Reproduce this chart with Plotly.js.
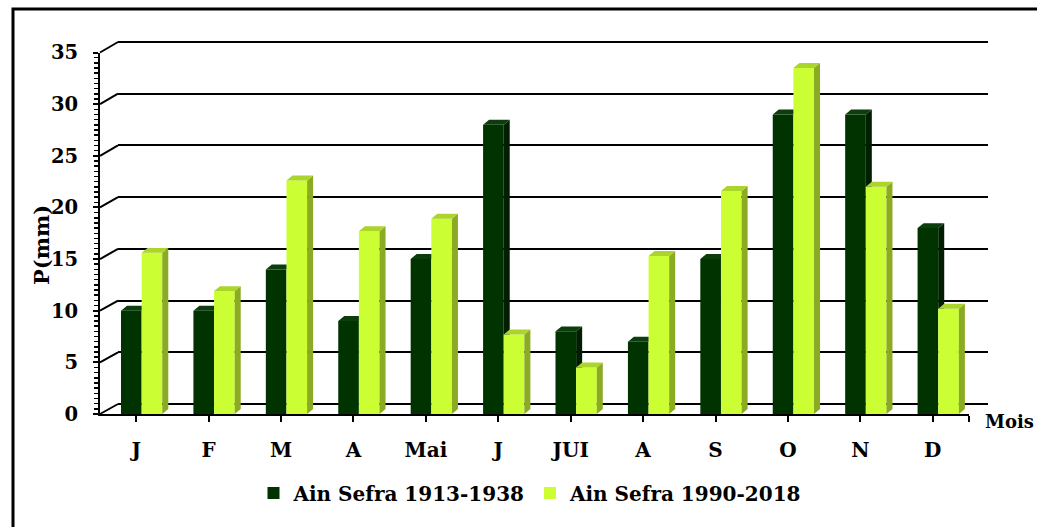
<!DOCTYPE html>
<html>
<head>
<meta charset="utf-8">
<script src="https://cdn.plot.ly/plotly-3.0.1.min.js"></script>
<style>html,body{margin:0;padding:0;background:#fff;}#chart{width:1037px;height:527px;}</style>
</head>
<body>
<div id="chart"></div>
<script>
// ---- data ----
var months = ['J', 'F', 'M', 'A', 'Mai', 'J', 'JUI', 'A', 'S', 'O', 'N', 'D'];
var p1913 = [10, 10, 14, 9, 15, 28, 8, 7, 15, 29, 29, 18];
var p1990 = [15.6, 11.9, 22.6, 17.7, 18.9, 7.7, 4.5, 15.3, 21.6, 33.5, 22, 10.2];
var seriesNames = ['Ain Sefra 1913-1938', 'Ain Sefra 1990-2018'];
var yTicks = [0, 5, 10, 15, 20, 25, 30, 35];

// ---- geometry / style ----
var W = 1037, H = 527;
var FRONT = {x0: 100, x1: 969, y0: 414, y1: 52.5};
var BACK  = {x0: 118, x1: 988, y0: 404, y1: 42};
var YMAX = 35, PAD = 0.5;
var barW = 0.285, offDark = -0.21, offLight = offDark + barW;
var dx = 0.083, dy = 0.48;
var cDark = '#003300', cDarkSide = '#001f00', cDarkTop = '#0c3d0c';
var cLight = '#ccff33', cLightSide = '#8aab22', cLightTop = '#abd52b';
var FONT = 'DejaVu Serif';

function px(x) { return x / W; }
function py(y) { return 1 - y / H; }

var idx = months.map(function (m, i) { return i; });

// polygons for 3D faces (computed from data)
function poly(list) {
  var xs = [], ys = [];
  list.forEach(function (p) {
    p.forEach(function (q) { xs.push(q[0]); ys.push(q[1]); });
    xs.push(p[0][0]); ys.push(p[0][1]);
    xs.push(null); ys.push(null);
  });
  return {x: xs, y: ys};
}
var darkSide = [], darkTop = [], lightSide = [], lightTop = [];
idx.forEach(function (i) {
  var v = p1913[i], L = p1990[i];
  var x0 = i + offDark, a = x0 + barW, b = a + barW;
  if (v > L) {
    darkSide.push([[a, L], [a, v], [a + dx, v + dy], [a + dx, L]]);
    darkTop.push([[x0, v], [a, v], [a + dx, v + dy], [x0 + dx, v + dy]]);
  } else {
    darkTop.push([[x0, v], [a, v], [a, v + dy], [x0 + dx, v + dy]]);
  }
  lightSide.push([[b, 0], [b, L], [b + dx, L + dy], [b + dx, dy]]);
  lightTop.push([[a, L], [b, L], [b + dx, L + dy], [a + dx, L + dy]]);
});
function face(list, color) {
  var p = poly(list);
  return {type: 'scatter', mode: 'lines', x: p.x, y: p.y, fill: 'toself',
    fillcolor: color, line: {width: 0, color: color}, hoverinfo: 'skip',
    showlegend: false, xaxis: 'x2', yaxis: 'y2'};
}

var traces = [
  {type: 'bar', name: seriesNames[0], x: idx, y: p1913, width: barW, offset: offDark,
   marker: {color: cDark, line: {width: 0}}, xaxis: 'x2', yaxis: 'y2'},
  {type: 'bar', name: seriesNames[1], x: idx, y: p1990, width: barW, offset: offLight,
   marker: {color: cLight, line: {width: 0}}, xaxis: 'x2', yaxis: 'y2'},
  face(darkSide, cDarkSide),
  face(darkTop, cDarkTop),
  face(lightSide, cLightSide),
  face(lightTop, cLightTop),
  // back wall subplot (gridlines only)
  {type: 'scatter', mode: 'none', x: [0], y: [0], showlegend: false, hoverinfo: 'skip', xaxis: 'x', yaxis: 'y'}
];

var backScale = (BACK.y0 - BACK.y1) / YMAX;
var shapes = [];
yTicks.forEach(function (t) {
  var yf = FRONT.y0 - t * (FRONT.y0 - FRONT.y1) / YMAX;
  var yb = BACK.y0 - t * backScale;
  shapes.push({type: 'line', xref: 'paper', yref: 'paper',
    x0: px(FRONT.x0), y0: py(yf), x1: px(BACK.x0), y1: py(yb),
    line: {color: '#000', width: 2}});
});
// outer frame
shapes.push({type: 'rect', xref: 'paper', yref: 'paper',
  x0: px(13), y0: py(9), x1: 1.05, y1: -0.05, line: {color: '#000', width: 3}, fillcolor: 'rgba(0,0,0,0)'});

var tickVals = idx.concat([idx.length - 0.5]);
var tickText = months.concat(['']);

var layout = {
  width: W, height: H,
  margin: {l: 0, r: 0, t: 0, b: 0},
  paper_bgcolor: '#fff', plot_bgcolor: 'rgba(0,0,0,0)',
  barmode: 'overlay',
  showlegend: true,
  font: {family: FONT, size: 19, color: '#000', weight: 'bold'},
  xaxis: {domain: [px(BACK.x0), px(BACK.x1)], range: [0, 1], anchor: 'y',
    showgrid: false, zeroline: false, showline: false, showticklabels: false, ticks: '', fixedrange: true},
  yaxis: {domain: [py(BACK.y0 + PAD * backScale), py(BACK.y1 - PAD * backScale)], range: [-PAD, YMAX + PAD], anchor: 'x',
    tickvals: yTicks, showgrid: true, gridcolor: '#000', gridwidth: 2,
    zeroline: false, showline: false, showticklabels: false, ticks: '', fixedrange: true},
  xaxis2: {domain: [px(FRONT.x0), px(FRONT.x1)], range: [-0.5, idx.length - 0.5], anchor: 'y2',
    tickvals: tickVals, ticktext: tickText, ticks: 'outside', ticklen: 6, tickwidth: 2, tickcolor: '#000',
    showline: true, linecolor: '#000', linewidth: 2, showgrid: false, zeroline: false,
    ticklabelstandoff: 11,
    tickfont: {family: FONT, size: 20, color: '#000', weight: 'bold'}, fixedrange: true},
  yaxis2: {domain: [py(FRONT.y0), py(FRONT.y1)], range: [0, YMAX], anchor: 'x2',
    tickvals: yTicks, ticks: 'outside', ticklen: 5, tickwidth: 2, tickcolor: '#000',
    minor: {dtick: 0.5, ticks: 'outside', ticklen: 4, tickwidth: 1.5, tickcolor: '#000', showgrid: false},
    showline: true, linecolor: '#000', linewidth: 2, showgrid: false, zeroline: false,
    ticklabelstandoff: 11,
    tickfont: {family: FONT, size: 19.5, color: '#000', weight: 'bold'}, fixedrange: true},
  legend: {orientation: 'h', x: px(530), xanchor: 'center', y: py(493), yanchor: 'middle',
    font: {family: FONT, size: 20, color: '#000', weight: 'bold'}, bgcolor: 'rgba(0,0,0,0)',
    traceorder: 'normal', itemwidth: 30},
  annotations: [
    {text: 'P(mm)', xref: 'paper', yref: 'paper', x: px(42), y: py(245), textangle: -90,
     showarrow: false, xanchor: 'center', yanchor: 'middle',
     font: {family: FONT, size: 21, color: '#000', weight: 'bold'}},
    {text: 'Mois', xref: 'paper', yref: 'paper', x: px(983), y: py(421),
     showarrow: false, xanchor: 'left', yanchor: 'middle',
     font: {family: FONT, size: 18, color: '#000', weight: 'bold'}}
  ],
  shapes: shapes
};

Plotly.newPlot('chart', traces, layout, {displayModeBar: false, staticPlot: true});
</script>
</body>
</html>
